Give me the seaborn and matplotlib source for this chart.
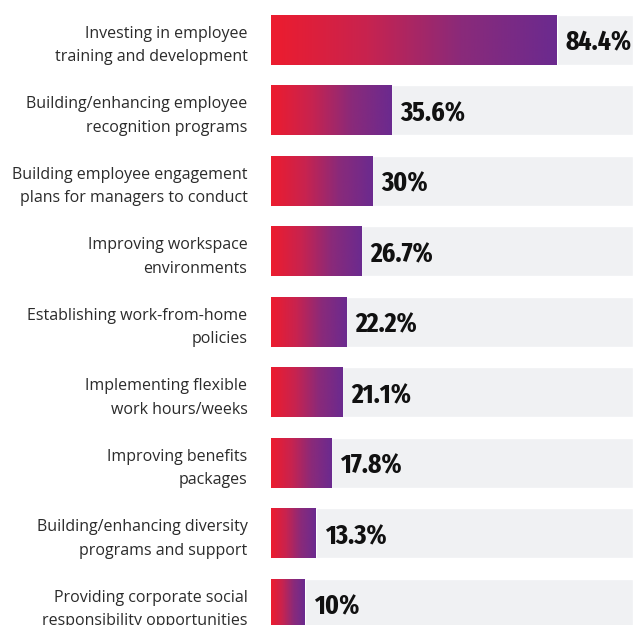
import numpy as np
import pandas as pd
import matplotlib.pyplot as plt
import seaborn as sns
from matplotlib import font_manager
from matplotlib.colors import LinearSegmentedColormap

# Data
categories = [
    "Investing in employee\ntraining and development",
    "Building/enhancing employee\nrecognition programs",
    "Building employee engagement\nplans for managers to conduct",
    "Improving workspace\nenvironments",
    "Establishing work-from-home\npolicies",
    "Implementing flexible\nwork hours/weeks",
    "Improving benefits\npackages",
    "Building/enhancing diversity\nprograms and support",
    "Providing corporate social\nresponsibility opportunities",
]
values = [84.4, 35.6, 30, 26.7, 22.2, 21.1, 17.8, 13.3, 10]
value_labels = ["84.4%", "35.6%", "30%", "26.7%", "22.2%", "21.1%", "17.8%", "13.3%", "10%"]
track_max = [107] * len(values)

df = pd.DataFrame({"category": categories, "value": values, "track": track_max})


def pick_condensed_bold():
    """Find the narrowest bold face installed for the value labels."""
    best = None
    for f in font_manager.fontManager.ttflist:
        w = f.weight if isinstance(f.weight, int) else font_manager.weight_dict.get(f.weight, 400)
        if w < 600 or "italic" in f.style or "oblique" in f.style:
            continue
        tag = (f.fname + " " + f.name).lower().replace(" ", "").replace("-", "")
        if "ultracondensed" in tag or "extracondensed" in tag:
            r = 0
        elif "semicondensed" in tag:
            r = 2
        elif "condensed" in tag or "narrow" in tag or f.stretch == "condensed":
            r = 1
        else:
            continue
        key = (r, abs(w - 700), f.fname)
        if best is None or key < best[0]:
            best = (key, f.fname)
    if best is None:
        return font_manager.FontProperties(family="DejaVu Sans", weight="bold")
    return font_manager.FontProperties(fname=best[1])


num_font = pick_condensed_bold()

sns.set_style("white")
plt.rcParams["font.family"] = ["Open Sans", "DejaVu Sans"]

fig = plt.figure(figsize=(6.33, 6.25), dpi=100)
ax = fig.add_axes([271 / 633, 0.0, 1 - 271 / 633, 1.0])

bar_h = 50 / 70.5
# background tracks
sns.barplot(data=df, x="track", y="category", orient="h", color="#f0f1f3",
            width=bar_h, ax=ax, saturation=1)
n_track = len(ax.patches)
# value bars
sns.barplot(data=df, x="value", y="category", orient="h", color="#e91e34",
            width=bar_h, ax=ax, saturation=1)

cmap = LinearSegmentedColormap.from_list("grad", ["#ed1c2e", "#c8234f", "#8a2a7a", "#6b2a8f"])
grad = np.linspace(0, 1, 256).reshape(1, -1)
for p in ax.patches[n_track:]:
    x0, y0 = p.get_x(), p.get_y()
    w, h = p.get_width(), p.get_height()
    im = ax.imshow(grad, cmap=cmap, aspect="auto", extent=(x0, x0 + w, y0 + h, y0),
                   zorder=p.get_zorder() + 0.1)
    im.set_clip_path(p)

ax.set_xlim(0, 107)
ax.set_ylim(8.298, -0.567)
ax.set_xlabel("")
ax.set_ylabel("")
ax.set_xticks([])
ax.set_yticks(range(len(categories)))
ax.set_yticklabels(categories, fontsize=11.5, color="#2b2b2b", linespacing=1.6)
ax.tick_params(axis="y", length=0, pad=17)
sns.despine(ax=ax, left=True, bottom=True, top=True, right=True)

num_font.set_size(20)
for i, (v, lab) in enumerate(zip(values, value_labels)):
    ax.annotate(lab, xy=(v, i), xytext=(6.5, -2), textcoords="offset points",
                va="center", ha="left", fontproperties=num_font, color="#111111",
                annotation_clip=False)

fig.savefig("out.png", dpi=100)
